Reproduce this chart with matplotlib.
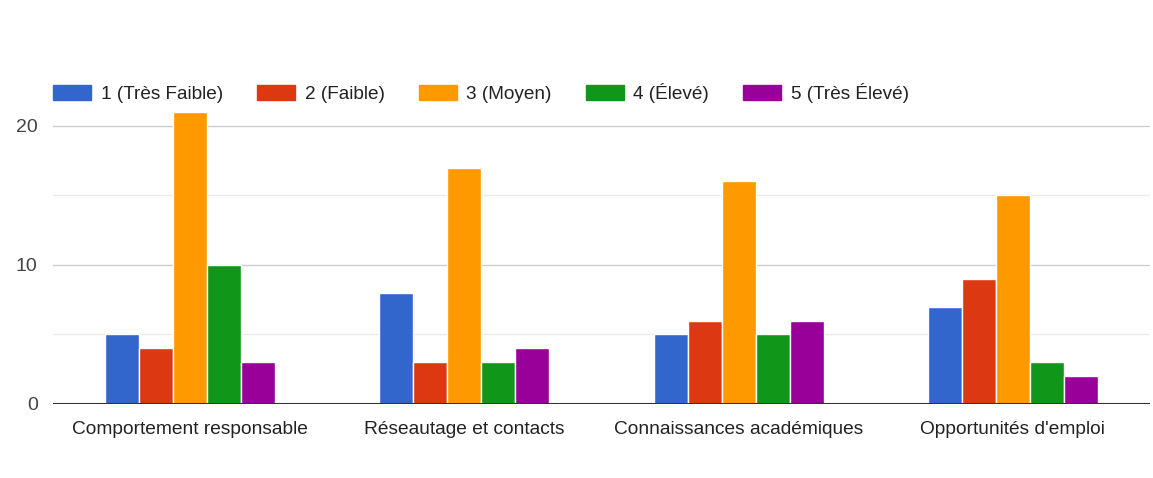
import matplotlib
matplotlib.use("Agg")
import matplotlib.pyplot as plt
import numpy as np
from matplotlib.patches import Patch

plt.rcParams['font.family'] = ['Liberation Sans', 'DejaVu Sans']

# données
categories = ["Comportement responsable", "Réseautage et contacts",
              "Connaissances académiques", "Opportunités d'emploi"]
series_labels = ["1 (Très Faible)", "2 (Faible)", "3 (Moyen)", "4 (Élevé)", "5 (Très Élevé)"]
tres_faible = [5, 8, 5, 7]
faible = [4, 3, 6, 9]
moyen = [21, 17, 16, 15]
eleve = [10, 3, 5, 3]
tres_eleve = [3, 4, 6, 2]
colors = ["#3366cc", "#dc3912", "#ff9900", "#109618", "#990099"]

series = [tres_faible, faible, moyen, eleve, tres_eleve]

fig = plt.figure(figsize=(11.53, 4.78), dpi=100)
ax = fig.add_axes([53 / 1153, 74 / 478, 1097 / 1153, 299 / 478])

x = np.arange(len(categories))
w = 0.124
for i, (vals, col) in enumerate(zip(series, colors)):
    ax.bar(x + (i - 2) * w, vals, width=w, color=col, edgecolor="white",
           linewidth=1, zorder=3)

ax.set_xlim(-0.5, len(categories) - 0.5)
ax.set_ylim(0, 21.5)
ax.set_yticks([0, 10, 20])
ax.set_yticks([5, 15], minor=True)
ax.grid(axis="y", which="major", color="#cccccc", linewidth=1, zorder=0)
ax.grid(axis="y", which="minor", color="#ebebeb", linewidth=1, zorder=0)
ax.axhline(0, color="#333333", linewidth=1.5, zorder=4)

for s in ax.spines.values():
    s.set_visible(False)
ax.tick_params(axis="both", which="both", length=0)
ax.tick_params(axis="y", labelsize=14, labelcolor="#444444", pad=11)
ax.set_xticks(x)
ax.set_xticklabels(categories, fontsize=13.8, color="#222222")
ax.tick_params(axis="x", pad=12.5)

handles = [Patch(facecolor=c, edgecolor=c) for c in colors]
fig.legend(handles, series_labels, loc="center left", ncol=5,
           bbox_to_anchor=(53 / 1153, 1 - 93 / 478), frameon=False,
           fontsize=13.7, handlelength=2.0, handleheight=0.84,
           handletextpad=0.5, columnspacing=1.8, borderpad=0,
           borderaxespad=0, labelcolor="#222222")

fig.savefig("out.png", dpi=100)
